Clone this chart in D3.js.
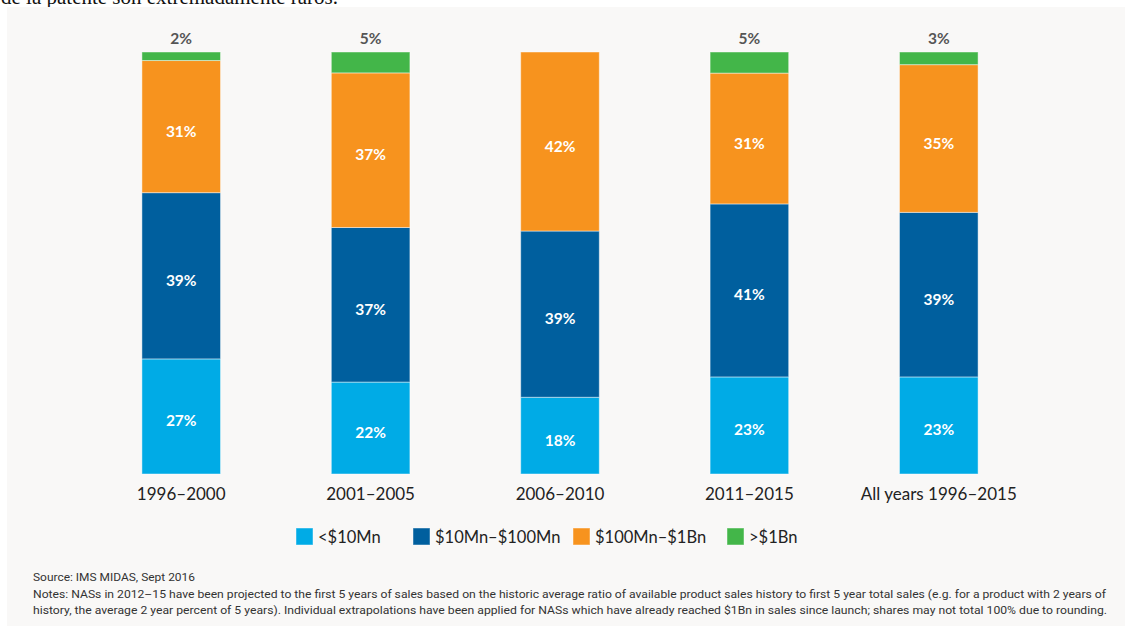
<!DOCTYPE html>
<html>
<head>
<meta charset="utf-8">
<script src="https://cdn.jsdelivr.net/npm/d3@7"></script>
<style>
  body { margin: 0; background: #fff; }
  svg { display: block; }
</style>
</head>
<body>
<div id="chart"></div>
<script>
var svgWidth = 1125;
var svgHeight = 628;

// data (labelled shares, %)
var periods = ["1996\u20132000", "2001\u20132005", "2006\u20132010", "2011\u20132015", "All years 1996\u20132015"];
var bands = ["<$10Mn", "$10Mn\u2013$100Mn", "$100Mn\u2013$1Bn", ">$1Bn"];
var under10 = [27, 22, 18, 23, 23];
var mid10to100 = [39, 37, 39, 41, 39];
var mid100to1b = [31, 37, 42, 31, 35];
var over1b = [2, 5, 0, 5, 3];
var colors = ["#00abe6", "#005f9e", "#f7931e", "#43b649"];

var sourceText = "Source: IMS MIDAS, Sept 2016";
var notesLines = [
  "Notes: NASs in 2012\u201315 have been projected to the first 5 years of sales based on the historic average ratio of available product sales history to first 5 year total sales (e.g. for a product with 2 years of",
  "history, the average 2 year percent of 5 years). Individual extrapolations have been applied for NASs which have already reached $1Bn in sales since launch; shares may not total 100% due to rounding."
];

var rows = periods.map(function(p, i) {
  var r = { period: p };
  r[bands[0]] = under10[i];
  r[bands[1]] = mid10to100[i];
  r[bands[2]] = mid100to1b[i];
  r[bands[3]] = over1b[i];
  return r;
});

var svg = d3.select("#chart")
  .append("svg")
  .attr("width", svgWidth)
  .attr("height", svgHeight);

// text cut off above the figure (as in the source page)
svg.append("text")
  .attr("x", 1)
  .attr("y", 4)
  .style("font-family", "Liberation Serif, serif")
  .style("font-size", "21px")
  .attr("fill", "#111")
  .text("de la patente son extremadamente raros.");

svg.append("rect")
  .attr("x", 7)
  .attr("y", 7)
  .attr("width", svgWidth - 7)
  .attr("height", 619)
  .attr("fill", "#f9f8f7");

var xScale = d3.scaleBand()
  .domain(periods)
  .range([87, 1033])
  .paddingInner(0.585)
  .paddingOuter(0.29);

var yScale = d3.scaleLinear()
  .domain([0, 1])
  .range([474, 52]);

var stack = d3.stack()
  .keys(bands)
  .offset(d3.stackOffsetExpand);

var series = stack(rows);

var chartGroup = svg.append("g");

var layers = chartGroup.selectAll("g.layer")
  .data(series)
  .enter()
  .append("g")
  .attr("class", "layer")
  .attr("fill", function(d, i) { return colors[i]; });

layers.selectAll("rect")
  .data(function(d) { return d.filter(function(s) { return s[1] - s[0] > 0; }); })
  .enter()
  .append("rect")
  .attr("x", function(d) { return xScale(d.data.period); })
  .attr("y", function(d) { return yScale(d[1]); })
  .attr("width", xScale.bandwidth())
  .attr("height", function(d) { return yScale(d[0]) - yScale(d[1]); })
  .attr("stroke", "rgba(255,255,255,0.45)")
  .attr("stroke-width", 1);

// labels inside segments (all but the top band)
series.forEach(function(s, i) {
  if (i === 3) return;
  chartGroup.append("g")
    .selectAll("text")
    .data(s)
    .enter()
    .append("text")
    .attr("x", function(d) { return xScale(d.data.period) + xScale.bandwidth() / 2; })
    .attr("y", function(d) { return (yScale(d[0]) + yScale(d[1])) / 2 + 10; })
    .attr("text-anchor", "middle")
    .style("font-family", "Lato, sans-serif")
    .style("font-weight", "bold")
    .style("font-size", "15.5px")
    .attr("fill", "#fff")
    .text(function(d) { return d.data[bands[i]] + "%"; });
});

// >$1Bn labels above bars
chartGroup.append("g")
  .selectAll("text")
  .data(series[3].filter(function(d) { return d.data[bands[3]] > 0; }))
  .enter()
  .append("text")
  .attr("x", function(d) { return xScale(d.data.period) + xScale.bandwidth() / 2; })
  .attr("y", 44)
  .attr("text-anchor", "middle")
  .style("font-family", "Lato, sans-serif")
  .style("font-weight", "bold")
  .style("font-size", "15.5px")
  .attr("fill", "#555")
  .text(function(d) { return d.data[bands[3]] + "%"; });

// category axis
var xAxis = chartGroup.append("g")
  .attr("transform", "translate(0, 474)")
  .call(d3.axisBottom(xScale).tickSize(0).tickPadding(14));
xAxis.select(".domain").remove();
xAxis.selectAll("text")
  .style("font-family", "Lato, sans-serif")
  .style("font-size", "17px")
  .attr("fill", "#222");

// legend
var legendX = [296, 413, 573, 727];
var legend = svg.append("g").selectAll("g")
  .data(bands)
  .enter()
  .append("g")
  .attr("transform", function(d, i) { return "translate(" + legendX[i] + ", 528)"; });
legend.append("rect")
  .attr("width", 17)
  .attr("height", 17)
  .attr("fill", function(d, i) { return colors[i]; })
  .attr("stroke", "rgba(255,255,255,0.45)");
legend.append("text")
  .attr("x", 22)
  .attr("y", 15)
  .style("font-family", "Lato, sans-serif")
  .style("font-size", "16.5px")
  .attr("fill", "#222")
  .text(function(d) { return d; });

// source and notes
svg.append("text")
  .attr("x", 33)
  .attr("y", 581)
  .style("font-family", "Roboto, sans-serif")
  .style("font-size", "11.5px")
  .attr("fill", "#333")
  .attr("textLength", 162)
  .attr("lengthAdjust", "spacingAndGlyphs")
  .text(sourceText);

svg.append("g").selectAll("text")
  .data(notesLines)
  .enter()
  .append("text")
  .attr("x", 33)
  .attr("y", function(d, i) { return 598 + i * 16; })
  .style("font-family", "Roboto, sans-serif")
  .style("font-size", "11.5px")
  .attr("fill", "#333")
  .attr("textLength", function(d, i) { return i === 0 ? 1073 : 1074; })
  .attr("lengthAdjust", "spacingAndGlyphs")
  .text(function(d) { return d; });
</script>
</body>
</html>
